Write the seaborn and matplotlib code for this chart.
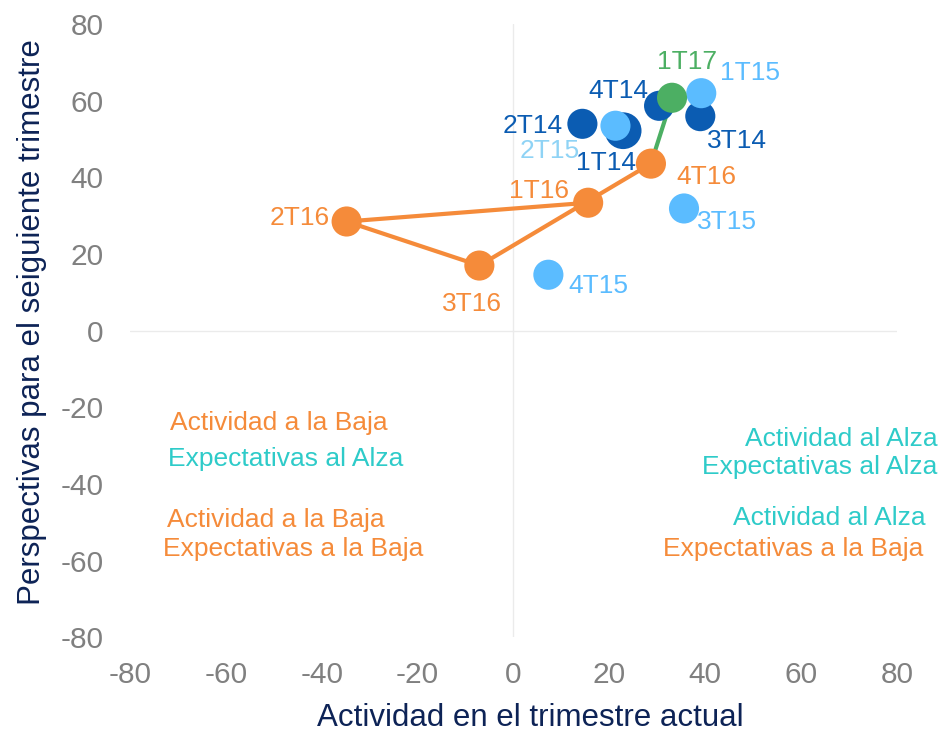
"""Actividad vs. perspectivas por trimestre."""

import matplotlib

matplotlib.use("Agg")
import matplotlib.pyplot as plt
import pandas as pd
import seaborn as sns

labels = ["1T14", "2T14", "3T14", "4T14", "1T15", "2T15", "3T15", "4T15",
          "1T16", "2T16", "3T16", "4T16", "1T17"]
actividad = [22.9, 14.4, 39.0, 30.4, 39.2, 21.3, 35.6, 7.3,
             15.6, -34.8, -7.1, 28.7, 33.1]
perspectivas = [52.2, 54.0, 56.0, 58.7, 62.0, 53.5, 31.9, 14.6,
                33.4, 28.5, 17.0, 43.6, 60.8]
year = ["2014", "2014", "2014", "2014", "2015", "2015", "2015", "2015",
        "2016", "2016", "2016", "2016", "2017"]

DARK = "#0b5cb2"
LIGHT = "#5bbcff"
ORANGE = "#f58b3a"
GREEN = "#4caf63"
TEAL = "#2ecbc9"
NAVY = "#0d2356"
palette = {"2014": DARK, "2015": LIGHT, "2016": ORANGE, "2017": GREEN}

df = pd.DataFrame({"label": labels, "x": actividad, "y": perspectivas, "year": year})
df["big"] = df["label"].eq("1T14").map({True: "big", False: "normal"})

sns.set_style("white")
plt.rcParams["font.family"] = ["Liberation Sans", "DejaVu Sans"]
plt.rcParams["axes.unicode_minus"] = False

fig = plt.figure(figsize=(9.42, 7.34), dpi=100)
ax = fig.add_axes([0.138, 0.132, 0.814, 0.835])

ax.axhline(0, color="#ebebeb", lw=1, zorder=0)
ax.axvline(0, color="#ebebeb", lw=1, zorder=0)

# trayectoria 2016 -> 2017
path16 = df[df["year"] == "2016"]
sns.lineplot(data=path16, x="x", y="y", sort=False, color=ORANGE, lw=3, ax=ax, zorder=2)
path17 = df[df["label"].isin(["4T16", "1T17"])]
sns.lineplot(data=path17, x="x", y="y", sort=False, color=GREEN, lw=3, ax=ax, zorder=2)

sns.scatterplot(data=df, x="x", y="y", hue="year", palette=palette, size="big",
                sizes={"big": 700, "normal": 470}, linewidth=0, legend=False,
                ax=ax, zorder=3, clip_on=False)

# desplazamiento de etiquetas en pixeles (dx, dy hacia arriba)
offsets = {
    "1T14": (-17, -32), "2T14": (-50, -2), "3T14": (37, -25), "4T14": (-41, 15),
    "1T15": (49, 20), "2T15": (-66, -25), "3T15": (43, -14), "4T15": (50, -11),
    "1T16": (-49, 12), "2T16": (-47, 3), "3T16": (-7, -38), "4T16": (55, -13),
    "1T17": (15, 36),
}
for _, row in df.iterrows():
    color = "#8fd3f5" if row["label"] == "2T15" else palette[row["year"]]
    ax.annotate(row["label"], (row["x"], row["y"]), xytext=offsets[row["label"]],
                textcoords="offset pixels", color=color, fontsize=19,
                ha="center", va="center", zorder=4)

quad = [
    (-49, -24, "Actividad a la Baja", ORANGE, "center"),
    (-47.5, -33.4, "Expectativas al Alza", TEAL, "center"),
    (-49.5, -49.3, "Actividad a la Baja", ORANGE, "center"),
    (-46, -57, "Expectativas a la Baja", ORANGE, "center"),
    (88.5, -28.2, "Actividad al Alza", TEAL, "right"),
    (88.5, -35.5, "Expectativas al Alza", TEAL, "right"),
    (86, -48.8, "Actividad al Alza", TEAL, "right"),
    (85.5, -57, "Expectativas a la Baja", ORANGE, "right"),
]
for qx, qy, txt, col, ha in quad:
    ax.text(qx, qy, txt, color=col, fontsize=19, ha=ha, va="center", clip_on=False)

ax.set_xlim(-80, 80)
ax.set_ylim(-80, 80)
ax.set_xticks(range(-80, 81, 20))
ax.set_yticks(range(-80, 81, 20))
ax.tick_params(labelsize=21.5, labelcolor="#808080", length=0, pad=19)
ax.tick_params(axis="x", pad=17)
sns.despine(ax=ax, left=True, bottom=True)
ax.set_xlabel("Actividad en el trimestre actual", fontsize=22.5, color=NAVY, va="center")
ax.set_ylabel("Perspectivas para el seiguiente trimestre", fontsize=22.5, color=NAVY,
              va="center")
ax.xaxis.set_label_coords(0.522, -0.132)
ax.yaxis.set_label_coords(-0.128, 0.514)

fig.savefig("out.png", dpi=100)
